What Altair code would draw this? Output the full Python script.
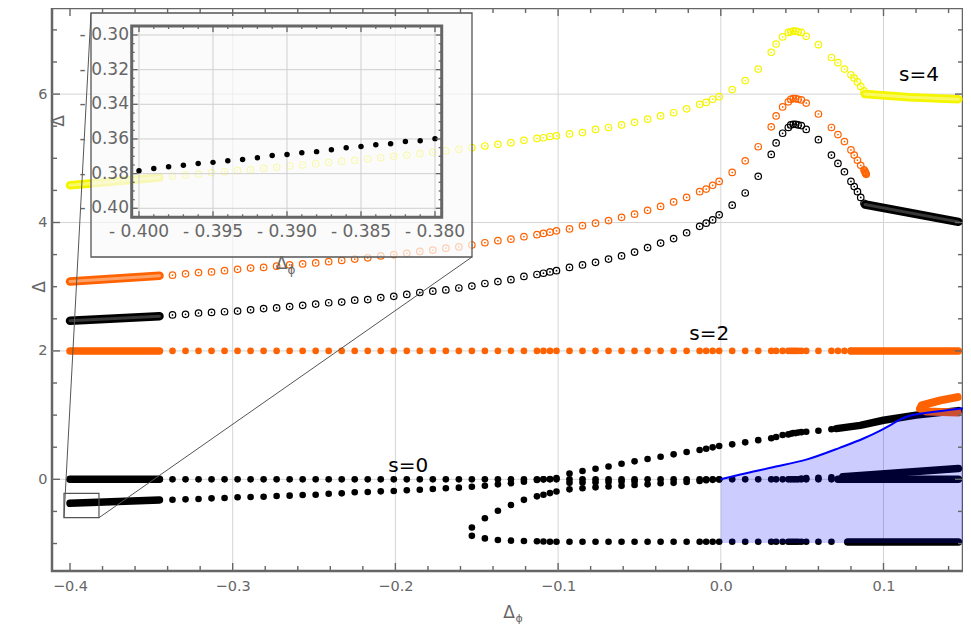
import altair as alt
import pandas as pd

# ---------------- values ----------------
# common sparse x grid (Delta_phi) used by the sampled series
G = [-0.337, -0.329, -0.321, -0.313, -0.305, -0.297, -0.289, -0.281, -0.273, -0.265,
     -0.257, -0.249, -0.241, -0.233, -0.225, -0.217, -0.209, -0.201, -0.193, -0.185,
     -0.177, -0.169, -0.161, -0.153, -0.145, -0.137, -0.129, -0.121, -0.113, -0.109,
     -0.105, -0.101, -0.093, -0.085, -0.077, -0.069, -0.061, -0.053, -0.045, -0.037,
     -0.029, -0.021, -0.013, -0.009, -0.005, -0.001, 0.007, 0.015, 0.023, 0.031,
     0.034, 0.038, 0.0415, 0.043, 0.0445, 0.046, 0.0475, 0.0495, 0.0525, 0.060,
     0.068, 0.072, 0.076, 0.080, 0.082, 0.084, 0.086, 0.088]

# s=4 (yellow rings), spin-2 (orange rings), lowest (black rings)
YELLOW_RING_Y = [4.724, 4.740, 4.755, 4.776, 4.791, 4.807, 4.822, 4.844, 4.860, 4.880,
                 4.896, 4.916, 4.938, 4.953, 4.969, 4.989, 5.009, 5.031, 5.051, 5.072,
                 5.093, 5.118, 5.140, 5.165, 5.192, 5.218, 5.243, 5.28, 5.31, 5.32,
                 5.34, 5.35, 5.38, 5.40, 5.45, 5.48, 5.52, 5.56, 5.61, 5.66,
                 5.71, 5.77, 5.84, 5.87, 5.92, 5.96, 6.07, 6.21, 6.39, 6.65,
                 6.78, 6.89, 6.96, 6.97, 6.98, 6.98, 6.97, 6.96, 6.90, 6.77,
                 6.57, 6.49, 6.39, 6.30, 6.25, 6.19, 6.12, 6.05]
ORANGE_RING_Y = [3.18, 3.20, 3.22, 3.23, 3.25, 3.27, 3.29, 3.30, 3.32, 3.34,
                 3.355, 3.37, 3.39, 3.41, 3.43, 3.45, 3.48, 3.50, 3.52, 3.55,
                 3.57, 3.60, 3.62, 3.65, 3.685, 3.717, 3.74, 3.78, 3.81, 3.83,
                 3.85, 3.87, 3.90, 3.95, 3.99, 4.03, 4.08, 4.13, 4.19, 4.25,
                 4.32, 4.39, 4.48, 4.52, 4.58, 4.64, 4.78, 4.96, 5.18, 5.49,
                 5.66, 5.80, 5.88, 5.92, 5.93, 5.93, 5.92, 5.91, 5.86, 5.69,
                 5.48, 5.37, 5.26, 5.13, 5.05, 4.97, 4.89, 4.82]
ORANGE_RING_END_X = [0.0885, 0.0888, 0.0891, 0.0894]
ORANGE_RING_END_Y = [4.80, 4.78, 4.765, 4.75]
BLACK_RING_Y = [2.56, 2.57, 2.59, 2.60, 2.61, 2.62, 2.64, 2.66, 2.67, 2.69,
                2.71, 2.73, 2.75, 2.76, 2.79, 2.80, 2.83, 2.85, 2.88, 2.91,
                2.93, 2.95, 2.98, 3.01, 3.05, 3.08, 3.11, 3.16, 3.19, 3.21,
                3.23, 3.25, 3.30, 3.34, 3.38, 3.43, 3.48, 3.54, 3.61, 3.68,
                3.75, 3.84, 3.94, 3.99, 4.04, 4.12, 4.27, 4.46, 4.72, 5.06,
                5.24, 5.39, 5.48, 5.52, 5.53, 5.53, 5.52, 5.51, 5.45, 5.29,
                5.05, 4.92, 4.79, 4.64, 4.56, 4.48, 4.39, 4.30]

# s=2 filled orange row
S2_LEVEL = 2.0
S2_N = 64                      # sparse points use G[:64]

# s=0 filled black branches
Z_LEVEL = 0.0
Z_N = 61                       # G[:61]
L_Y = [-0.318, -0.312, -0.307, -0.296, -0.291, -0.280, -0.276, -0.271, -0.260, -0.255,
       -0.244, -0.240, -0.224, -0.218, -0.202, -0.198, -0.187, -0.182, -0.171, -0.162,
       -0.151, -0.140, -0.130, -0.115, -0.100, -0.078, -0.062, -0.037, -0.010, 0.000,
       0.005, 0.020]                                   # G[0:32]
R_Y = [0.09, 0.13, 0.165, 0.20, 0.243, 0.28, 0.316, 0.352, 0.389, 0.425,
       0.456, 0.477, 0.498, 0.519, 0.545, 0.576, 0.61, 0.64, 0.66, 0.69,
       0.70, 0.71, 0.72, 0.72, 0.73, 0.735, 0.74, 0.757, 0.78]   # G[32:61]
M_Y = [-0.055, -0.05, -0.045, -0.04, -0.035, -0.03]             # G[32:38]
A_Y = [-0.75, -0.607, -0.49, -0.40, -0.32, -0.265, -0.24, -0.215, -0.19, -0.156,
       -0.14, -0.125, -0.112, -0.102, -0.089, -0.078, -0.062, -0.055, -0.04, -0.026,
       -0.015, -0.008, -0.002]                                   # G[23:46]
B_TURN_Y = [-0.88, -0.92, -0.945, -0.955, -0.96, -0.965, -0.968]  # G[23:30]
B_LEVEL = -0.972                                                 # G[30:61]
U_Y = [0.012, 0.018, 0.024, 0.030]                               # G[57:61]

# densely sampled stretches (drawn as continuous strokes)
DENSE_RING = {
    "yellow_left": ([-0.400, -0.345], [4.58, 4.70]),
    "yellow_right": ([0.0885, 0.116, 0.146], [6.00, 5.95, 5.92]),
    "orange_left": ([-0.400, -0.345], [3.08, 3.17]),
    "black_left": ([-0.400, -0.345], [2.47, 2.54]),
    "black_right": ([0.0887, 0.146], [4.28, 4.01]),
}
DENSE_DOT = {
    "s2_left": ([-0.400, -0.345], [2.0, 2.0]),
    "s2_right": ([0.080, 0.146], [2.0, 2.0]),
    "z_left": ([-0.400, -0.345], [0.0, 0.0]),
    "z_right": ([0.072, 0.146], [0.0, 0.0]),
    "l_left": ([-0.400, -0.345], [-0.374, -0.322]),
    "r_right": ([0.071, 0.0857, 0.100, 0.120, 0.146], [0.79, 0.84, 0.92, 1.00, 1.07]),
    "u_right": ([0.075, 0.146], [0.04, 0.17]),
    "b_right": ([0.078, 0.146], [-0.975, -0.975]),
}
FOLD_X = [0.1455, 0.1265, 0.1224, 0.1234, 0.135, 0.1455]
FOLD_Y = [1.04, 1.055, 1.10, 1.15, 1.23, 1.28]

# blue bound and shaded region
BLUE_X = [0.0, 0.012, 0.032, 0.053, 0.073, 0.088, 0.098, 0.104, 0.110, 0.116, 0.128, 0.140, 0.1535]
BLUE_Y = [0.0, 0.075, 0.187, 0.31, 0.49, 0.64, 0.76, 0.84, 0.93, 0.99, 1.04, 1.08, 1.12]
SHADE_FLOOR = -0.99

# text labels (data coordinates)
S_LABELS = ["s=4", "s=2", "s=0"]
S_LABEL_X = [0.1218, -0.0071, -0.1921]
S_LABEL_Y = [6.30, 2.26, 0.21]

# zoom indicator and inset box (data coordinates of the main plot)
ZOOM_X = [-0.40369, -0.38218]
ZOOM_Y = [-0.598, -0.218]
INSET_BOX_X = [-0.38709, -0.15292]
INSET_BOX_Y = [3.4626, 7.2632]

# inset data
INSET_X = [-0.400, -0.399, -0.398, -0.397, -0.396, -0.395, -0.394, -0.393, -0.392, -0.391,
           -0.390, -0.389, -0.388, -0.387, -0.386, -0.385, -0.384, -0.383, -0.382, -0.381, -0.380]
INSET_Y = [-0.3783, -0.3771, -0.3760, -0.3752, -0.3742, -0.3735, -0.3725, -0.3719, -0.3708, -0.3696,
           -0.3690, -0.3679, -0.3673, -0.3662, -0.3650, -0.3644, -0.3633, -0.3627, -0.3615, -0.3610, -0.3598]
INSET_XTICKS = [-0.400, -0.395, -0.390, -0.385, -0.380]
INSET_XLABELS = ["- 0.400", "- 0.395", "- 0.390", "- 0.385", "- 0.380"]
INSET_YTICKS = [-0.30, -0.32, -0.34, -0.36, -0.38, -0.40]
INSET_YLABELS = ["- 0.30", "- 0.32", "- 0.34", "- 0.36", "- 0.38", "- 0.40"]
INSET_XMINOR = [-0.399, -0.398, -0.397, -0.396, -0.394, -0.393, -0.392, -0.391,
                -0.389, -0.388, -0.387, -0.386, -0.384, -0.383, -0.382, -0.381]
INSET_YMINOR = [-0.295, -0.305, -0.31, -0.315, -0.325, -0.33, -0.335, -0.345, -0.35,
                -0.355, -0.365, -0.37, -0.375, -0.385, -0.39, -0.395, -0.405]

# main axes
X_MAJOR = [-0.4, -0.3, -0.2, -0.1, 0.0, 0.1]
X_MINOR = [-0.38, -0.36, -0.34, -0.32, -0.28, -0.26, -0.24, -0.22, -0.18, -0.16, -0.14,
           -0.12, -0.08, -0.06, -0.04, -0.02, 0.02, 0.04, 0.06, 0.08, 0.12, 0.14]
Y_MAJOR = [0, 2, 4, 6]
Y_MINOR = [-1.0, -0.5, 0.5, 1.0, 1.5, 2.5, 3.0, 3.5, 4.5, 5.0, 5.5, 6.5, 7.0]
X_GRID = [-0.3, -0.2, -0.1, 0.0, 0.1]
Y_GRID = [0, 2, 4, 6]

# ---------------- layout / style ----------------
W, H = 911, 563
X_DOM = [-0.41106, 0.14886]
Y_DOM = [-1.428, 7.341]
IX_DOM = [-0.400493, -0.379547]
IY_DOM = [-0.4052, -0.2948]
IX_RANGE = [79.7, 389.7]
IY_RANGE = [209.3, 18.0]

FONT = "DejaVu Sans"
GRAY = "#666666"
BLACK = "#000000"
ORANGE = "#ff6200"
YELLOW = "#f5f500"
BLUE = "#0000ff"

XS = alt.Scale(domain=X_DOM, nice=False, zero=False)
YS = alt.Scale(domain=Y_DOM, nice=False, zero=False)
AX_X = alt.Axis(values=X_MAJOR, format=".1f", title=None, grid=False, ticks=False, domain=False,
                labelFont=FONT, labelFontSize=14.5, labelColor=GRAY, labelPadding=8, labelFlush=False)
AX_Y = alt.Axis(values=Y_MAJOR, format="d", title=None, grid=False, ticks=False, domain=False,
                labelFont=FONT, labelFontSize=14.5, labelColor=GRAY, labelPadding=5, labelFlush=False)


def mx(f="x"):
    return alt.X(f"{f}:Q", scale=XS, axis=AX_X)


def my(f="y"):
    return alt.Y(f"{f}:Q", scale=YS, axis=AX_Y)


ISX = alt.Scale(domain=IX_DOM, range=IX_RANGE, nice=False, zero=False)
ISY = alt.Scale(domain=IY_DOM, range=IY_RANGE, nice=False, zero=False)


def ix(f="x"):
    return alt.X(f"{f}:Q", scale=ISX, axis=None)


def iy(f="y"):
    return alt.Y(f"{f}:Q", scale=ISY, axis=None)


def pts(xv, yv):
    xv, yv = list(xv), list(yv)
    n = min(len(xv), len(yv))
    return pd.DataFrame({"x": xv[:n], "y": yv[:n], "o": list(range(n))})


def rings(df, color):
    outer = alt.Chart(df).mark_point(shape="circle", filled=False, size=42, strokeWidth=1.2,
                                     color=color, opacity=1).encode(x=mx(), y=my())
    center = alt.Chart(df).mark_circle(size=3, color=color, opacity=1).encode(x=mx(), y=my())
    return [outer, center]


def dots(df, color, size=44):
    return alt.Chart(df).mark_circle(size=size, color=color, opacity=1).encode(x=mx(), y=my())


def band(xv, yv, color, width=8.0, opacity=1.0):
    return alt.Chart(pts(xv, yv)).mark_line(color=color, strokeWidth=width, strokeCap="round",
                                            strokeJoin="round", opacity=opacity).encode(
        x=mx(), y=my(), order="o:Q")


dummy = pd.DataFrame({"k": [0]})

main_layers = []

# grid
main_layers.append(alt.Chart(pd.DataFrame({"x": X_GRID, "y0": Y_DOM[0], "y1": Y_DOM[1]}))
                   .mark_rule(color="#d4d4d4", strokeWidth=1).encode(x=mx(), y=my("y0"), y2="y1:Q"))
main_layers.append(alt.Chart(pd.DataFrame({"y": Y_GRID, "x0": X_DOM[0], "x1": X_DOM[1]}))
                   .mark_rule(color="#d4d4d4", strokeWidth=1).encode(y=my(), x=mx("x0"), x2="x1:Q"))

# ring series
ring_colors = {"black": BLACK, "orange": ORANGE, "yellow": YELLOW}
main_layers += rings(pts(G, BLACK_RING_Y), BLACK)
main_layers += rings(pts(G, ORANGE_RING_Y), ORANGE)
main_layers += rings(pts(ORANGE_RING_END_X, ORANGE_RING_END_Y), ORANGE)
main_layers += rings(pts(G, YELLOW_RING_Y), YELLOW)
for name, (bx, by) in DENSE_RING.items():
    col = ring_colors[name.split("_")[0]]
    main_layers.append(band(bx, by, col, 8.5))
    main_layers.append(band(bx, by, "#ffffff", 3.0, 0.4 if col != BLACK else 0.22))

# s=2 filled orange
main_layers.append(dots(pts(G[:S2_N], [S2_LEVEL] * S2_N), ORANGE))
for name in ["s2_left", "s2_right"]:
    bx, by = DENSE_DOT[name]
    main_layers.append(band(bx, by, ORANGE, 7.5))

# s=0 filled black branches
main_layers.append(dots(pts(G[:Z_N], [Z_LEVEL] * Z_N), BLACK))
main_layers.append(dots(pts(G[0:32], L_Y), BLACK))
main_layers.append(dots(pts(G[32:61], R_Y), BLACK))
main_layers.append(dots(pts(G[32:38], M_Y), BLACK))
main_layers.append(dots(pts(G[23:46], A_Y), BLACK))
main_layers.append(dots(pts(G[23:30], B_TURN_Y), BLACK))
main_layers.append(dots(pts(G[30:61], [B_LEVEL] * 31), BLACK))
main_layers.append(dots(pts(G[57:61], U_Y), BLACK))
for name in ["z_left", "z_right", "l_left", "r_right", "u_right", "b_right"]:
    bx, by = DENSE_DOT[name]
    main_layers.append(band(bx, by, BLACK, 7.5))

# orange fold near the right edge
main_layers.append(band(FOLD_X, FOLD_Y, ORANGE, 8.0))

# shaded region and its blue bound
blue_df = pd.DataFrame({"x": BLUE_X, "y": BLUE_Y, "floor": SHADE_FLOOR})
main_layers.append(alt.Chart(blue_df).mark_area(color=BLUE, opacity=0.2, clip=True, orient="vertical",
                                                interpolate="monotone")
                   .encode(x=mx(), y=my(), y2="floor:Q"))
main_layers.append(alt.Chart(blue_df).mark_line(color=BLUE, strokeWidth=2, clip=True,
                                                interpolate="monotone")
                   .encode(x=mx(), y=my()))

# s labels
main_layers.append(alt.Chart(pd.DataFrame({"x": S_LABEL_X, "y": S_LABEL_Y, "t": S_LABELS}))
                   .mark_text(font=FONT, fontSize=20, color=BLACK, align="center", baseline="middle")
                   .encode(x=mx(), y=my(), text="t:N"))

# zoom indicator
main_layers.append(alt.Chart(pd.DataFrame({"x0": [ZOOM_X[0]], "x1": [ZOOM_X[1]],
                                           "y0": [ZOOM_Y[0]], "y1": [ZOOM_Y[1]]}))
                   .mark_rect(fillOpacity=0, stroke="#555555", strokeWidth=1.2)
                   .encode(x=mx("x0"), x2="x1:Q", y=my("y0"), y2="y1:Q"))
conn = pd.DataFrame({
    "x": [ZOOM_X[0], INSET_BOX_X[0], ZOOM_X[1], INSET_BOX_X[1]],
    "y": [ZOOM_Y[0], INSET_BOX_Y[1], ZOOM_Y[0], INSET_BOX_Y[0]],
    "id": ["a", "a", "b", "b"],
    "o": [0, 1, 0, 1],
})
main_layers.append(alt.Chart(conn).mark_line(color="#555555", strokeWidth=1)
                   .encode(x=mx(), y=my(), detail="id:N", order="o:Q"))

# inset backdrop
main_layers.append(alt.Chart(pd.DataFrame({"x0": [INSET_BOX_X[0]], "x1": [INSET_BOX_X[1]],
                                           "y0": [INSET_BOX_Y[0]], "y1": [INSET_BOX_Y[1]]}))
                   .mark_rect(fill="#fafafa", fillOpacity=0.72, stroke="#555555", strokeWidth=1.3)
                   .encode(x=mx("x0"), x2="x1:Q", y=my("y0"), y2="y1:Q"))


# frame ticks (inward)
def xticks(vals, length):
    df = pd.DataFrame({"x": vals})
    bot = alt.Chart(df).mark_rule(color=GRAY, strokeWidth=1.4).encode(
        x=mx(), y=alt.value(H - length), y2=alt.value(H))
    top = alt.Chart(df).mark_rule(color=GRAY, strokeWidth=1.4).encode(
        x=mx(), y=alt.value(0), y2=alt.value(length))
    return [bot, top]


def yticks(vals, length):
    df = pd.DataFrame({"y": vals})
    left = alt.Chart(df).mark_rule(color=GRAY, strokeWidth=1.4).encode(
        y=my(), x=alt.value(0), x2=alt.value(length))
    right = alt.Chart(df).mark_rule(color=GRAY, strokeWidth=1.4).encode(
        y=my(), x=alt.value(W - length), x2=alt.value(W))
    return [left, right]


main_layers += xticks(X_MAJOR, 8) + xticks(X_MINOR, 5) + yticks(Y_MAJOR, 8) + yticks(Y_MINOR, 5)

# main axis titles
main_layers.append(alt.Chart(dummy).mark_text(text="Δ", font=FONT, fontSize=17, color=GRAY,
                                              align="center", baseline="middle")
                   .encode(x=alt.value(457), y=alt.value(605)))
main_layers.append(alt.Chart(dummy).mark_text(text="ϕ", font=FONT, fontSize=11, color=GRAY,
                                              align="center", baseline="middle")
                   .encode(x=alt.value(467), y=alt.value(611)))
main_layers.append(alt.Chart(dummy).mark_text(text="Δ", font=FONT, fontSize=17, color=GRAY,
                                              align="center", baseline="middle", angle=270)
                   .encode(x=alt.value(-12), y=alt.value(279)))

main = alt.layer(*main_layers)

# ---------------- inset ----------------
inset_layers = []
inset_layers.append(alt.Chart(pd.DataFrame({"x": INSET_XTICKS, "y0": IY_DOM[0], "y1": IY_DOM[1]}))
                    .mark_rule(color="#cfcfcf", strokeWidth=1).encode(x=ix(), y=iy("y0"), y2="y1:Q"))
inset_layers.append(alt.Chart(pd.DataFrame({"y": INSET_YTICKS, "x0": IX_DOM[0], "x1": IX_DOM[1]}))
                    .mark_rule(color="#cfcfcf", strokeWidth=1).encode(y=iy(), x=ix("x0"), x2="x1:Q"))
inset_layers.append(alt.Chart(pts(INSET_X, INSET_Y)).mark_circle(size=30, color=BLACK, opacity=1)
                    .encode(x=ix(), y=iy()))
inset_layers.append(alt.Chart(pd.DataFrame({"x0": [IX_DOM[0]], "x1": [IX_DOM[1]],
                                            "y0": [IY_DOM[0]], "y1": [IY_DOM[1]]}))
                    .mark_rect(fillOpacity=0, stroke=GRAY, strokeWidth=3)
                    .encode(x=ix("x0"), x2="x1:Q", y=iy("y0"), y2="y1:Q"))


def ixticks(vals, length):
    df = pd.DataFrame({"x": vals})
    return [alt.Chart(df).mark_rule(color=GRAY, strokeWidth=1.3).encode(
                x=ix(), y=alt.value(IY_RANGE[0] - length), y2=alt.value(IY_RANGE[0])),
            alt.Chart(df).mark_rule(color=GRAY, strokeWidth=1.3).encode(
                x=ix(), y=alt.value(IY_RANGE[1]), y2=alt.value(IY_RANGE[1] + length))]


def iyticks(vals, length):
    df = pd.DataFrame({"y": vals})
    return [alt.Chart(df).mark_rule(color=GRAY, strokeWidth=1.3).encode(
                y=iy(), x=alt.value(IX_RANGE[0]), x2=alt.value(IX_RANGE[0] + length)),
            alt.Chart(df).mark_rule(color=GRAY, strokeWidth=1.3).encode(
                y=iy(), x=alt.value(IX_RANGE[1] - length), x2=alt.value(IX_RANGE[1]))]


inset_layers += ixticks(INSET_XTICKS, 6) + ixticks(INSET_XMINOR, 3)
inset_layers += iyticks(INSET_YTICKS, 6) + iyticks(INSET_YMINOR, 3)

inset_layers.append(alt.Chart(pd.DataFrame({"x": INSET_XTICKS, "t": INSET_XLABELS}))
                    .mark_text(font=FONT, fontSize=17, color=GRAY, align="center", baseline="middle")
                    .encode(x=ix(), y=alt.value(224), text="t:N"))
inset_layers.append(alt.Chart(pd.DataFrame({"y": INSET_YTICKS, "t": INSET_YLABELS}))
                    .mark_text(font=FONT, fontSize=17, color=GRAY, align="right", baseline="middle")
                    .encode(y=iy(), x=alt.value(77), text="t:N"))
inset_layers.append(alt.Chart(dummy).mark_text(text="Δ", font=FONT, fontSize=17, color=GRAY,
                                               align="center", baseline="middle", angle=270)
                    .encode(x=alt.value(7), y=alt.value(113)))
inset_layers.append(alt.Chart(dummy).mark_text(text="Δ", font=FONT, fontSize=17, color=GRAY,
                                               align="center", baseline="middle")
                    .encode(x=alt.value(229.5), y=alt.value(255.5)))
inset_layers.append(alt.Chart(dummy).mark_text(text="ϕ", font=FONT, fontSize=12, color=GRAY,
                                               align="center", baseline="middle")
                    .encode(x=alt.value(239.5), y=alt.value(262)))

inset = alt.layer(*inset_layers)

chart = (
    alt.layer(main, inset)
    .resolve_scale(x="independent", y="independent")
    .properties(width=W, height=H,
                padding={"left": 44, "top": 0, "right": 0, "bottom": 55},
                autosize=alt.AutoSizeParams(type="none"))
    .configure_view(stroke=GRAY, strokeWidth=2.5)
)

chart.save("out.html", embed_options={"renderer": "svg", "actions": False})
